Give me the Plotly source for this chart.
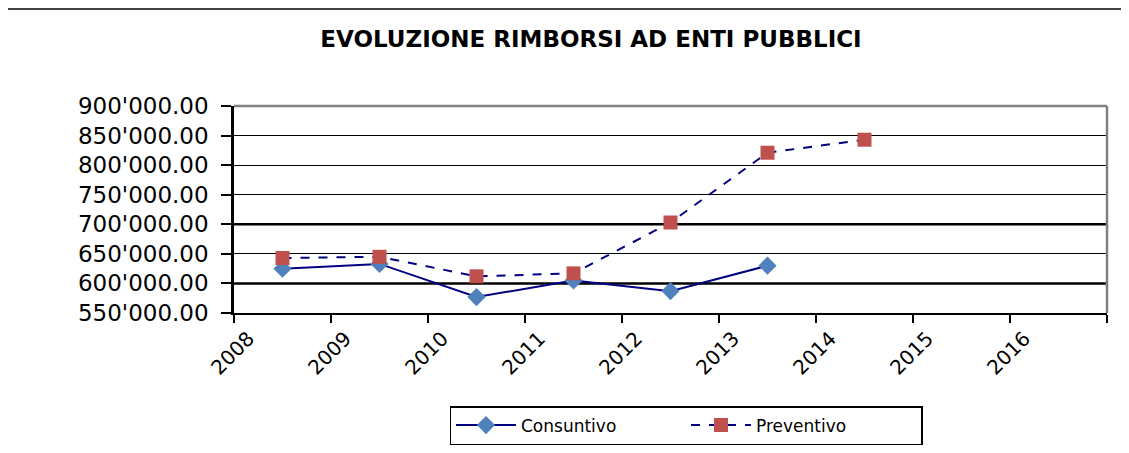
import plotly.graph_objects as go

years = ["2008", "2009", "2010", "2011", "2012", "2013", "2014", "2015", "2016"]
consuntivo = [625000, 633000, 577000, 605000, 587000, 630000, None, None, None]
preventivo = [643000, 645000, 612000, 617000, 703000, 821000, 843000, None, None]
y_ticks = [550000, 600000, 650000, 700000, 750000, 800000, 850000, 900000]
title_text = "EVOLUZIONE RIMBORSI AD ENTI PUBBLICI"

OFF = 8  # default page body margin
W, H = 1129 - 2 * OFF, 453 - 2 * OFF
L, R, T, B = 234 - OFF, 22 - OFF, 106 - OFF, 140 - OFF
pw, ph = W - L - R, H - T - B

fig = go.Figure()
fig.add_trace(go.Scatter(
    x=years, y=consuntivo, name="Consuntivo", mode="lines+markers",
    line=dict(color="#000080", width=2),
    marker=dict(symbol="diamond", size=14, color="#4F81BD"),
))
fig.add_trace(go.Scatter(
    x=years, y=preventivo, name="Preventivo", mode="lines+markers",
    line=dict(color="#000080", width=2, dash="dash"),
    marker=dict(symbol="square", size=14, color="#C0504D"),
))

# thicker gridlines as in the reference
for v in (600000, 700000):
    fig.add_shape(type="line", xref="paper", x0=0, x1=1, yref="y", y0=v, y1=v,
                  line=dict(color="black", width=2.5), layer="below")
# gray top/right frame
fig.add_shape(type="line", xref="paper", x0=0, x1=1, yref="paper", y0=1, y1=1,
              line=dict(color="#808080", width=2.5))
fig.add_shape(type="line", xref="paper", x0=1, x1=1, yref="paper", y0=0, y1=1,
              line=dict(color="#808080", width=2.5))
# top separator line of the page
fig.add_shape(type="line", xref="paper", yref="paper",
              x0=(3 - OFF - L) / pw, x1=(W + 20 - L) / pw,
              y0=(H - B - (9 - OFF)) / ph, y1=(H - B - (9 - OFF)) / ph,
              line=dict(color="black", width=1.5))

fig.update_layout(
    width=W, height=H,
    margin=dict(l=L, r=R, t=T, b=B, autoexpand=False),
    paper_bgcolor="white", plot_bgcolor="white",
    separators=".'",
    font=dict(family="DejaVu Sans", color="black"),
    title=dict(text="<b>" + title_text + "</b>", x=(591 - OFF) / W, xanchor="center",
               xref="container", yref="container",
               y=1 - (39 - OFF) / H, yanchor="middle",
               font=dict(family="DejaVu Sans", size=23, color="black")),
    showlegend=True,
    legend=dict(orientation="h", x=(686 - OFF - L) / pw, xanchor="center",
                yref="container", y=1 - (406 - OFF) / H, yanchor="top",
                bordercolor="black", borderwidth=1.5,
                font=dict(family="DejaVu Sans", size=17, color="black"),
                itemwidth=60, entrywidth=160),
    xaxis=dict(type="category", categoryorder="array", categoryarray=years,
               range=[-0.5, 8.5], tickson="boundaries", ticks="outside", ticklen=8,
               tickwidth=2, tickcolor="black", showline=True, linecolor="black",
               linewidth=2, showgrid=False, tickangle=-45, automargin=False,
               ticklabelshift=-34, ticklabelstandoff=4,
               tickfont=dict(family="DejaVu Sans", size=20, color="black")),
    yaxis=dict(range=[550000, 900000], tickvals=y_ticks, tickformat=",.2f",
               ticks="outside", ticklen=10, tickwidth=1.5, tickcolor="black",
               showline=True, linecolor="black", linewidth=2.5, automargin=False,
               ticklabelstandoff=8,
               showgrid=True, gridcolor="black", gridwidth=1, zeroline=False,
               tickfont=dict(family="DejaVu Sans", size=23, color="black")),
)

fig.write_html("out.html")
